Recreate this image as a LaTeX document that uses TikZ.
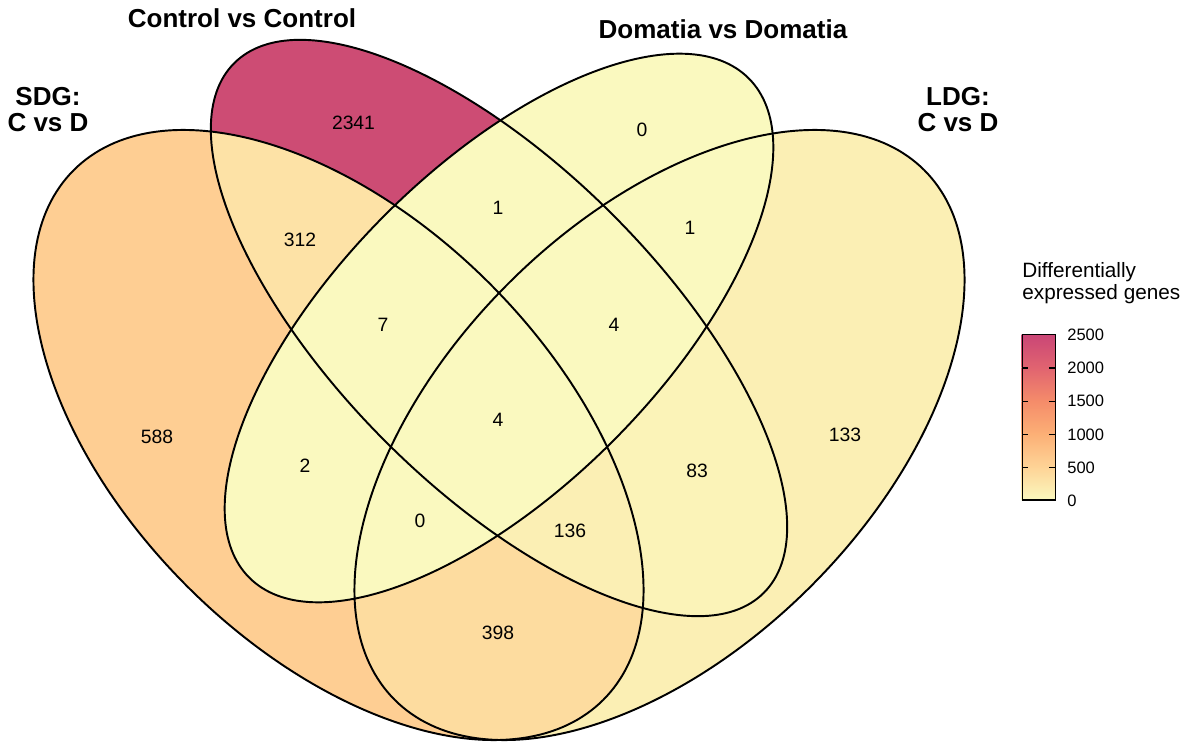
\documentclass[tikz,border=0pt]{standalone}
\usepackage{fontspec}
\setmainfont{Liberation Sans}
\usetikzlibrary{positioning}
\definecolor{f0}{HTML}{FAF9BF}
\definecolor{f83}{HTML}{FBF3B8}
\definecolor{f133}{HTML}{FBEFB4}
\definecolor{f312}{HTML}{FDE2A6}
\definecolor{f398}{HTML}{FDDC9F}
\definecolor{f588}{HTML}{FECE93}
\definecolor{f2341}{HTML}{CD4C74}
\definecolor{g500}{HTML}{FED497}
\definecolor{g1000}{HTML}{FCB076}
\definecolor{g1500}{HTML}{F58C6A}
\definecolor{g2000}{HTML}{E16470}
\definecolor{g2500}{HTML}{CA4676}
\tikzset{rotA/.style={rotate around={-45:(6.77,-8.70)}},
  rotB/.style={rotate around={-45:(9.98,-6.56)}},
  rotC/.style={rotate around={45:(9.98,-6.56)}},
  rotD/.style={rotate around={45:(13.19,-8.70)}},
  cnt/.style={font=\fontsize{11}{13}\selectfont, inner sep=0pt},
  ttl/.style={font=\fontsize{14.8}{14.7}\selectfont\bfseries, align=center, inner sep=0pt},
  scl/.style={font=\fontsize{9.4}{11}\selectfont, inner sep=0pt, anchor=west},
  rim/.style={draw=black, line width=1.1pt}}
\newcommand\ovalA{(6.77,-8.70) ellipse (7.49 and 4.28)}
\newcommand\ovalB{(9.98,-6.56) ellipse (7.49 and 3.21)}
\newcommand\ovalC{(9.98,-6.56) ellipse (7.062 and 3.21)}
\newcommand\ovalD{(13.19,-8.70) ellipse (7.49 and 4.28)}
\newcommand\allarea{(0,0) rectangle (23.84,-14.84)}

\begin{document}
\begin{tikzpicture}
  \useasboundingbox (0,0) rectangle (23.84,-14.84);
  % one set only
  \fill[f588, rotA] \ovalA;
  \fill[f2341, rotB] \ovalB;
  \fill[f0, rotC] \ovalC;
  \fill[f133, rotD] \ovalD;
  % two sets
  \begin{scope}\clip[rotA] \ovalA; \clip[rotB] \ovalB; \fill[f312] \allarea; \end{scope}
  \begin{scope}\clip[rotA] \ovalA; \clip[rotC] \ovalC; \fill[f0] \allarea; \end{scope}
  \begin{scope}\clip[rotA] \ovalA; \clip[rotD] \ovalD; \fill[f398] \allarea; \end{scope}
  \begin{scope}\clip[rotB] \ovalB; \clip[rotC] \ovalC; \fill[f0] \allarea; \end{scope}
  \begin{scope}\clip[rotB] \ovalB; \clip[rotD] \ovalD; \fill[f83] \allarea; \end{scope}
  \begin{scope}\clip[rotC] \ovalC; \clip[rotD] \ovalD; \fill[f0] \allarea; \end{scope}
  % three sets
  \begin{scope}\clip[rotA] \ovalA; \clip[rotB] \ovalB; \clip[rotC] \ovalC; \fill[f0] \allarea; \end{scope}
  \begin{scope}\clip[rotA] \ovalA; \clip[rotB] \ovalB; \clip[rotD] \ovalD; \fill[f133] \allarea; \end{scope}
  \begin{scope}\clip[rotA] \ovalA; \clip[rotC] \ovalC; \clip[rotD] \ovalD; \fill[f0] \allarea; \end{scope}
  \begin{scope}\clip[rotB] \ovalB; \clip[rotC] \ovalC; \clip[rotD] \ovalD; \fill[f0] \allarea; \end{scope}
  % all four
  \begin{scope}\clip[rotA] \ovalA; \clip[rotB] \ovalB; \clip[rotC] \ovalC; \clip[rotD] \ovalD;
    \fill[f0] \allarea; \end{scope}
  % outlines
  \draw[rim, rotA] \ovalA;
  \draw[rim, rotB] \ovalB;
  \draw[rim, rotC] \ovalC;
  \draw[rim, rotD] \ovalD;
  % counts
  \node[cnt] (nB) at (7.07,-2.45) {2341};
  \node[cnt] (nC) at (12.84,-2.60) {0};
  \node[cnt] (nAB) at (6.00,-4.80) {312};
  \node[cnt] (nBC) at (9.96,-4.16) {1};
  \node[cnt] (nCD) at (13.80,-4.56) {1};
  \node[cnt] (nABC) at (7.66,-6.50) {7};
  \node[cnt] (nBCD) at (12.28,-6.50) {4};
  \node[cnt] (nABCD) at (9.96,-8.40) {4};
  \node[cnt] (nA) at (3.14,-8.74) {588};
  \node[cnt] (nD) at (16.90,-8.70) {133};
  \node[cnt] (nAC) at (6.10,-9.32) {2};
  \node[cnt] (nBD) at (13.94,-9.42) {83};
  \node[cnt] (nACD) at (8.40,-10.42) {0};
  \node[cnt] (nABD) at (11.40,-10.62) {136};
  \node[cnt] (nAD) at (9.96,-12.66) {398};
  % set titles
  \node[ttl] (tB) at (4.84,-0.37) {Control vs Control};
  \node[ttl] (tC) at (14.46,-0.58) {Domatia vs Domatia};
  \node[ttl] (tA) at (0.96,-2.19) {SDG:\\C vs D};
  \node[ttl] (tD) at (19.16,-2.19) {LDG:\\C vs D};
  % legend
  \node[anchor=north west, align=left, inner sep=0pt, font=\fontsize{11.8}{12.5}\selectfont] (legt) at (20.44,-5.24) {Differentially\\expressed genes};
  \foreach \lo/\hi/\cl/\ch in {0/500/f0/g500, 500/1000/g500/g1000, 1000/1500/g1000/g1500,
      1500/2000/g1500/g2000, 2000/2500/g2000/g2500}
    \shade[bottom color=\cl, top color=\ch] (20.434,{-10.014+\lo*0.001324}) rectangle (21.10,{-10.014+\hi*0.001324});
  \node[draw, line width=0.7pt, minimum width=0.666cm, minimum height=3.31cm, inner sep=0pt, anchor=south west] (cbar) at (20.434,-10.014) {};
  \foreach \v in {500,1000,1500,2000}{
    \draw[line width=0.7pt] (20.434,{-10.014+\v*0.001324}) -- ++(0.12,0);
    \draw[line width=0.7pt] (21.10,{-10.014+\v*0.001324}) -- ++(-0.12,0);}
  \foreach \v in {0,500,1000,1500,2000,2500}
    \node[scl] (lv\v) at (21.34,{-10.014+\v*0.001324}) {\v};
\end{tikzpicture}
\end{document}
